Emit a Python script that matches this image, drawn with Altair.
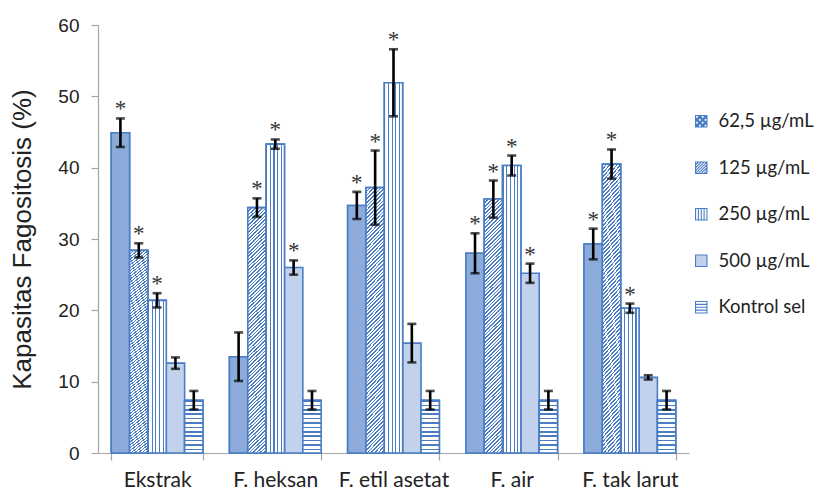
import altair as alt
import pandas as pd

# ---------------- data ----------------
categories = ["Ekstrak", "F. heksan", "F. etil asetat", "F. air", "F. tak larut"]
series = ["62,5 µg/mL", "125 µg/mL", "250 µg/mL", "500 µg/mL", "Kontrol sel"]

mean_62 = [44.9, 13.5, 34.7, 28.0, 29.3]
mean_125 = [28.4, 34.4, 37.2, 35.6, 40.5]
mean_250 = [21.4, 43.3, 51.9, 40.3, 20.3]
mean_500 = [12.6, 26.0, 15.4, 25.2, 10.6]
mean_kon = [7.4, 7.4, 7.4, 7.4, 7.4]

err_62 = [2.0, 3.4, 1.9, 2.8, 2.15]
err_125 = [1.0, 1.3, 5.2, 2.6, 2.05]
err_250 = [1.0, 0.65, 4.7, 1.4, 0.65]
err_500 = [0.8, 1.0, 2.7, 1.35, 0.3]
err_kon = [1.3, 1.3, 1.3, 1.3, 1.3]

sig_62 = [True, False, True, True, True]
sig_125 = [True, True, True, True, True]
sig_250 = [True, True, True, True, True]
sig_500 = [False, True, False, True, False]
sig_kon = [False, False, False, False, False]

means = [mean_62, mean_125, mean_250, mean_500, mean_kon]
errs = [err_62, err_125, err_250, err_500, err_kon]
sigs = [sig_62, sig_125, sig_250, sig_500, sig_kon]

rows = []
for s, m, e, g in zip(series, means, errs, sigs):
    for c, mv, ev, gv in zip(categories, m, e, g):
        rows.append({"kategori": c, "seri": s, "nilai": mv,
                     "lo": mv - ev, "hi": mv + ev, "sig": "*" if gv else ""})
df = pd.DataFrame(rows)

# ---------------- styles ----------------
BLUE = "#4A7DC4"
WHITE = "#FFFFFF"
CHECK_AVG = "#8CABDB"
PALE = "#C2D2EC"
# legend/base fills (patterned series are overdrawn by their own layers)
legend_fill = [BLUE, WHITE, WHITE, PALE, WHITE]
legend_stroke = [BLUE, BLUE, BLUE, BLUE, BLUE]


def stripes(n, frac, direction):
    stops = []
    for i in range(n):
        a = i / n
        b = a + frac / n
        stops += [alt.GradientStop(offset=a, color=BLUE),
                  alt.GradientStop(offset=b, color=BLUE),
                  alt.GradientStop(offset=b, color=WHITE),
                  alt.GradientStop(offset=(i + 1) / n, color=WHITE)]
    if direction == "x":
        return alt.Gradient(gradient="linear", stops=stops, x1=0, y1=0, x2=1, y2=0)
    if direction == "y":
        return alt.Gradient(gradient="linear", stops=stops, x1=0, y1=0, x2=0, y2=1)
    r = 14.0
    k = (1 + r) / (1 + r * r)
    return alt.Gradient(gradient="linear", stops=stops, x1=0, y1=0, x2=k, y2=k * r)


fills = {
    series[0]: CHECK_AVG,
    series[1]: stripes(76, 0.45, "d"),
    series[2]: stripes(5, 0.3, "x"),
    series[4]: stripes(12, 0.38, "y"),
}


# legend symbol paths (unit square -1..1)
def checker_path():
    p = "M-1,-1H1V1H-1Z"
    for i in range(4):
        for j in range(4):
            if (i + j) % 2 == 0:
                x = -1 + 0.5 * i
                y = -1 + 0.5 * j
                p += f"M{x},{y}V{y + 0.5}H{x + 0.5}V{y}Z"
    return p


def diag_path():
    p = "M-1,-1H1V1H-1Z"
    for c in [-1.5, -1.0, -0.5, 0.0, 0.5, 1.0, 1.5]:
        if c <= 0:
            p += f"M-1,{c + 1}L{c + 1},-1"
        else:
            p += f"M{c - 1},1L1,{c - 1}"
    return p


shape_paths = [
    checker_path(),
    diag_path(),
    "M-1,-1H1V1H-1ZM-0.5,-1V1M0,-1V1M0.5,-1V1",
    "M-1,-1H1V1H-1Z",
    "M-1,-1H1V1H-1ZM-1,-0.5H1M-1,0H1M-1,0.5H1",
]

x_enc = alt.X("kategori:N", sort=categories,
              scale=alt.Scale(paddingInner=0.224, paddingOuter=0.112),
              axis=alt.Axis(title=None, labelAngle=0, tickBand="extent",
                            labelFont="Lato", labelFontSize=21, labelColor="#222222",
                            labelPadding=9, tickSize=7, tickColor="#A6A6A6",
                            domainColor="#A6A6A6", domainWidth=1.2, tickWidth=1.2))
xo_enc = alt.XOffset("seri:N", sort=series, scale=alt.Scale(paddingInner=0, domain=series))
y_scale = alt.Scale(domain=[0, 60], nice=False)

legend_def = alt.Legend(title=None, orient="none", legendX=594, legendY=87,
                        symbolSize=130, symbolStrokeColor=BLUE, symbolStrokeWidth=1.1,
                        labelFont="Lato", labelFontSize=18.5, labelColor="#222222",
                        labelOffset=8, rowPadding=27.5, symbolOpacity=1)

base = alt.Chart(df)

bars_base = base.mark_bar(stroke=BLUE, strokeWidth=1.6).encode(
    x=x_enc, xOffset=xo_enc,
    y=alt.Y("nilai:Q", scale=y_scale,
            axis=alt.Axis(title="Kapasitas Fagositosis (%)", values=[0, 10, 20, 30, 40, 50, 60],
                          grid=False, labelFont="Liberation Sans", labelFontSize=19,
                          labelColor="#222222", labelPadding=12, tickSize=7,
                          tickColor="#A6A6A6", domainColor="#A6A6A6", domainWidth=1.2,
                          tickWidth=1.2, titleFont="Liberation Sans", titleFontSize=26,
                          titleFontWeight="normal", titleColor="#222222", titlePadding=22)),
    fill=alt.Fill("seri:N", sort=series,
                  scale=alt.Scale(domain=series, range=legend_fill),
                  legend=legend_def),
)

# invisible layer that gives the legend its pattern-like symbols
legend_shapes = base.transform_filter(alt.datum.seri == "__none__").mark_point(
    filled=True, stroke=BLUE, strokeWidth=1.1).encode(
    x=x_enc, xOffset=xo_enc, y=alt.Y("nilai:Q", scale=y_scale),
    fill=alt.Fill("seri:N", sort=series,
                  scale=alt.Scale(domain=series, range=legend_fill), legend=legend_def),
    stroke=alt.Stroke("seri:N", sort=series,
                      scale=alt.Scale(domain=series, range=legend_stroke), legend=legend_def),
    shape=alt.Shape("seri:N", sort=series,
                    scale=alt.Scale(domain=series, range=shape_paths), legend=legend_def),
)

pattern_layers = []
for s in [series[0], series[1], series[2], series[4]]:
    pattern_layers.append(
        base.transform_filter(alt.datum.seri == s).mark_bar(
            fill=fills[s], stroke=BLUE, strokeWidth=1.6
        ).encode(x=x_enc, xOffset=xo_enc, y=alt.Y("nilai:Q", scale=y_scale))
    )

err_rule = base.mark_rule(color="#000000", strokeWidth=2.6).encode(
    x=x_enc, xOffset=xo_enc, y=alt.Y("lo:Q", scale=y_scale), y2="hi:Q")
cap_hi = base.mark_tick(color="#000000", thickness=2.6, size=9).encode(
    x=x_enc, xOffset=xo_enc, y=alt.Y("hi:Q", scale=y_scale))
cap_lo = base.mark_tick(color="#000000", thickness=2.6, size=9).encode(
    x=x_enc, xOffset=xo_enc, y=alt.Y("lo:Q", scale=y_scale))

stars = base.transform_filter(alt.datum.sig == "*").mark_text(
    font="Liberation Serif", fontSize=23, color="#333333", baseline="bottom", dy=3
).encode(x=x_enc, xOffset=xo_enc, y=alt.Y("hi:Q", scale=y_scale), text="sig:N")

chart = alt.layer(bars_base, legend_shapes, *pattern_layers, err_rule, cap_hi, cap_lo,
                  stars).properties(
    width=591, height=428,
    autosize=alt.AutoSizeParams(type="none"),
    padding={"left": 90, "top": 17, "right": 128, "bottom": 39},
).configure_view(stroke=None)

chart.save("out.html", embed_options={"renderer": "svg", "actions": False})
